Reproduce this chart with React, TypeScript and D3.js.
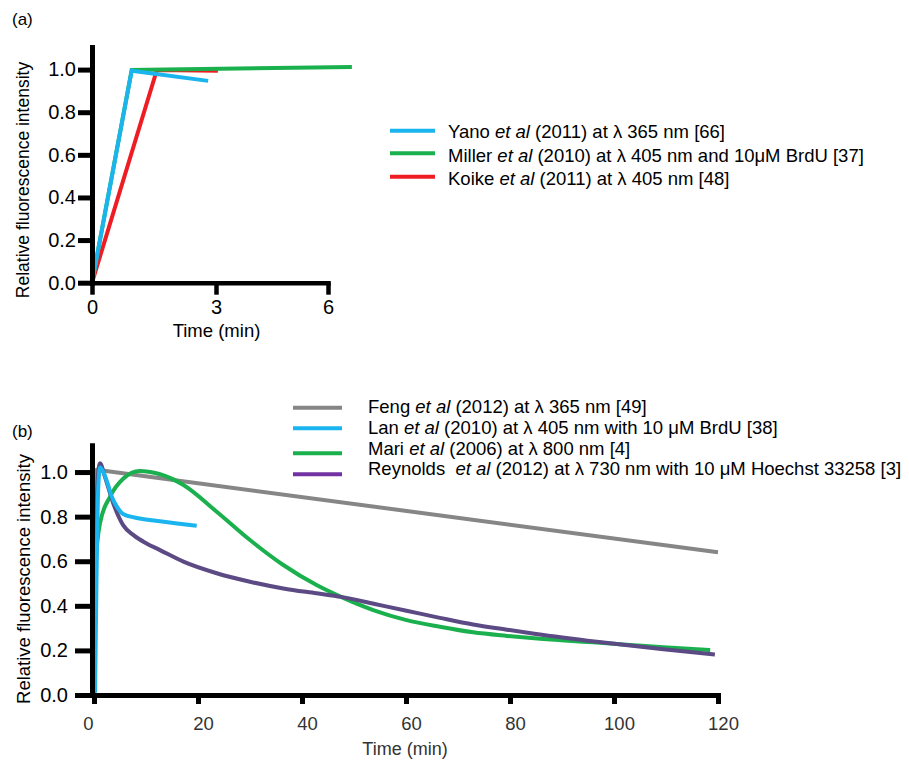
import React, { useEffect, useRef } from "react";
import * as d3 from "d3";

type Pt = [number, number];

// ---- panel (a): time (min) vs relative intensity
const aTicksX = [0, 3, 6];
const aTicksY = [0, 0.2, 0.4, 0.6, 0.8, 1.0];
const yanoA: Pt[] = [[0, 0], [0.96, 0.995], [2.81, 0.947]];
const millerA: Pt[] = [[0, 0], [0.96, 0.998], [6.64, 1.012]];
const koikeA: Pt[] = [[0, 0], [1.57, 0.998], [3.05, 0.995]];
const aAuthors = ["Yano ", "Miller ", "Koike "];
const aDetails = [
  " (2011) at λ 365 nm [66]",
  " (2010) at λ 405 nm and 10μM BrdU [37]",
  " (2011) at λ 405 nm [48]",
];

// ---- panel (b)
const bTicksX = [0, 20, 40, 60, 80, 100, 120];
const bTicksY = [0, 0.2, 0.4, 0.6, 0.8, 1.0];
const fengB: Pt[] = [[0, 0], [0.5, 1.01], [120, 0.64]];
const lanB: Pt[] = [
  [0.2, 0.01], [0.5, 0.55], [0.8, 0.92], [1.15, 1.02], [1.8, 1.0], [2.6, 0.95],
  [3.4, 0.89], [4.4, 0.845], [5.6, 0.812], [8.8, 0.792], [12.7, 0.779],
  [16, 0.769], [19.75, 0.759],
];
const mariB: Pt[] = [
  [0, 0], [0.3, 0.58], [1.15, 0.77], [3.1, 0.89], [5.6, 0.97], [8.8, 1.005],
  [10.8, 1.0], [12.7, 0.99], [17.2, 0.942], [23.6, 0.822], [30, 0.695],
  [36.4, 0.583], [42.8, 0.493], [47.5, 0.44], [53.7, 0.381], [60.1, 0.336],
  [66.5, 0.306], [72.9, 0.281], [79.4, 0.265], [85.8, 0.252], [96.7, 0.235],
  [109.5, 0.214], [118.5, 0.202],
];
const reynoldsB: Pt[] = [
  [0, 0], [0.3, 0.6], [0.7, 0.96], [1.15, 1.039], [2.1, 0.979], [3.7, 0.86],
  [5.6, 0.762], [7.6, 0.717], [10.1, 0.68], [12.7, 0.65], [17.2, 0.598],
  [23.6, 0.546], [30, 0.508], [36.4, 0.478], [42.8, 0.456], [47.5, 0.44],
  [54, 0.408], [60.1, 0.378], [66.5, 0.346], [72.9, 0.316], [79.4, 0.293],
  [85, 0.274], [96.7, 0.239], [109.5, 0.205], [119.4, 0.182],
];
const bAuthors = ["Feng ", "Lan ", "Mari ", "Reynolds  "];
const bDetails = [
  " (2012) at λ 365 nm [49]",
  " (2010) at λ 405 nm with 10 μM BrdU [38]",
  " (2006) at λ 800 nm [4]",
  " (2012) at λ 730 nm with 10 μM Hoechst 33258 [3]",
];

const FONT = '"Liberation Sans", Arial, Helvetica, sans-serif';
const BLUE = "#1ab4ee";
const GREEN = "#1bb04e";
const RED = "#ee1d23";
const GRAY = "#868686";
const PURPLE = "#5b4a84";
const PURPLE_KEY = "#7232a2";

const App = () => {
  const ref = useRef<SVGSVGElement>(null);

  useEffect(() => {
    const svg = d3.select(ref.current);
    svg.selectAll("*").remove();
    svg.attr("font-family", FONT);

    const styleAxis = (g: any, fontSize: number, color: string, w: number) => {
      g.attr("font-family", FONT).attr("font-size", fontSize);
      g.select(".domain").attr("stroke", "#000").attr("stroke-width", w).attr("stroke-linecap", "square");
      g.selectAll(".tick line").attr("stroke", "#000").attr("stroke-width", w);
      g.selectAll(".tick text").attr("fill", color);
    };

    const legend = (
      authors: string[], details: string[], colors: string[],
      keyX: number, keyW: number, keyY: number[], textX: number, textY: number[]
    ) => {
      const g = svg.append("g");
      authors.forEach((a, i) => {
        g.append("line")
          .attr("x1", keyX).attr("x2", keyX + keyW)
          .attr("y1", keyY[i]).attr("y2", keyY[i])
          .attr("stroke", colors[i]).attr("stroke-width", 4);
        const t = g.append("text")
          .attr("x", textX).attr("y", textY[i])
          .attr("font-size", 18.5).attr("fill", "#000")
          .style("white-space", "pre");
        t.append("tspan").text(a);
        t.append("tspan").attr("font-style", "italic").text("et al");
        t.append("tspan").text(details[i]);
      });
    };

    // ================= panel (a)
    const xa = d3.scaleLinear().domain([0, 3, 6]).range([92, 216, 328]);
    const ya = d3.scaleLinear().domain([0, 1.106]).range([282.7, 47]);

    const aLine = d3.line<Pt>().x((d) => xa(d[0])).y((d) => ya(d[1]));
    [
      { data: koikeA, color: RED },
      { data: millerA, color: GREEN },
      { data: yanoA, color: BLUE },
    ].forEach((s) => {
      svg.append("path")
        .attr("d", aLine(s.data))
        .attr("fill", "none")
        .attr("stroke", s.color)
        .attr("stroke-width", 4);
    });

    const ayG = svg.append("g").attr("transform", "translate(92,0)")
      .call(d3.axisLeft(ya).tickValues(aTicksY).tickSize(14).tickSizeOuter(0)
        .tickPadding(2).tickFormat(d3.format(".1f")));
    styleAxis(ayG, 20, "#000", 5);

    const axG = svg.append("g").attr("transform", "translate(0,282.7)")
      .call(d3.axisBottom(xa).tickValues(aTicksX).tickSize(12).tickSizeOuter(0)
        .tickPadding(5).tickFormat(d3.format("d")));
    styleAxis(axG, 20, "#000", 4.5);

    svg.append("text").attr("x", 216.5).attr("y", 337).attr("text-anchor", "middle")
      .attr("font-size", 18.5).text("Time (min)");
    svg.append("text").attr("transform", "translate(29,180) rotate(-90)")
      .attr("text-anchor", "middle").attr("font-size", 17.5)
      .text("Relative fluorescence intensity");
    svg.append("text").attr("x", 12).attr("y", 25).attr("font-size", 17).text("(a)");

    legend(aAuthors, aDetails, [BLUE, GREEN, RED], 390, 45, [130.7, 153.3, 176.7], 448, [138.3, 161.7, 185]);

    // ================= panel (b)
    const xb = d3.scaleLinear().domain([0, 120]).range([94, 718]);
    const yb = d3.scaleLinear().domain([0, 1.12]).range([695, 445.3]);

    const bSmooth = d3.line<Pt>().x((d) => xb(d[0])).y((d) => yb(d[1])).curve(d3.curveMonotoneX);
    const bStraight = d3.line<Pt>().x((d) => xb(d[0])).y((d) => yb(d[1]));
    [
      { d: bStraight(fengB), color: GRAY },
      { d: bSmooth(mariB), color: GREEN },
      { d: bSmooth(reynoldsB), color: PURPLE },
      { d: bSmooth(lanB), color: BLUE },
    ].forEach((s) => {
      svg.append("path")
        .attr("d", s.d)
        .attr("fill", "none")
        .attr("stroke", s.color)
        .attr("stroke-width", 4)
        .attr("stroke-linejoin", "round");
    });

    const byG = svg.append("g").attr("transform", "translate(92,0)")
      .call(d3.axisLeft(yb).tickValues(bTicksY).tickSize(17).tickSizeOuter(0)
        .tickPadding(7).tickFormat(d3.format(".1f")));
    styleAxis(byG, 20, "#000", 5);

    const bxG = svg.append("g").attr("transform", "translate(0,695)")
      .call(d3.axisBottom(xb).tickValues(bTicksX).tickSize(9).tickSizeOuter(0)
        .tickPadding(12.5).tickFormat(d3.format("d")));
    styleAxis(bxG, 18.5, "#333", 5);
    bxG.selectAll(".tick text").attr("dx", (d: any) => (d === 0 ? -6 : 5));

    svg.append("text").attr("x", 405).attr("y", 755).attr("text-anchor", "middle")
      .attr("font-size", 18).attr("fill", "#333").text("Time (min)");
    svg.append("text").attr("transform", "translate(30,579) rotate(-90)")
      .attr("text-anchor", "middle").attr("font-size", 18.5)
      .text("Relative fluorescence intensity");
    svg.append("text").attr("x", 12).attr("y", 437).attr("font-size", 17).text("(b)");

    legend(bAuthors, bDetails, [GRAY, BLUE, GREEN, PURPLE_KEY], 293, 49,
      [407.7, 428.3, 453.3, 474.3], 368, [413, 434, 454.5, 475]);
  }, []);

  return (
    <svg
      ref={ref}
      width={909}
      height={761}
      style={{ position: "absolute", left: 0, top: 0, background: "#fff" }}
    />
  );
};

export default App;
